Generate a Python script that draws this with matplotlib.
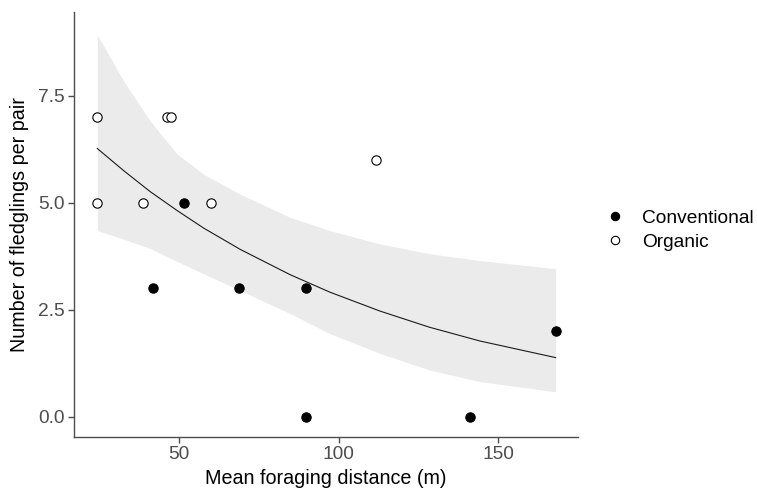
import matplotlib.pyplot as plt
from matplotlib.lines import Line2D

plt.rcParams['font.family'] = ['Liberation Sans', 'DejaVu Sans']

# observed points
conv_x = [41.7, 51.4, 68.8, 89.8, 89.8, 141.3, 168.0]
conv_y = [3, 5, 3, 3, 0, 0, 2]
org_x = [24.4, 24.4, 38.8, 46.3, 47.5, 60.0, 111.8]
org_y = [7, 5, 5, 7, 7, 5, 6]

# fitted curve and confidence band
fit_x = [24.4, 32.7, 41.0, 49.4, 57.7, 69.2, 84.8, 97.3, 112.9, 128.5, 144.2, 168.0]
fit_y = [6.27, 5.75, 5.26, 4.82, 4.41, 3.91, 3.32, 2.91, 2.47, 2.09, 1.77, 1.38]
fit_hi = [8.93, 7.84, 6.91, 6.14, 5.67, 5.20, 4.66, 4.35, 4.04, 3.81, 3.65, 3.46]
fit_lo = [4.35, 4.15, 3.93, 3.63, 3.34, 2.95, 2.41, 1.94, 1.48, 1.09, 0.82, 0.58]

x_ticks = [50, 100, 150]
y_ticks = [0.0, 2.5, 5.0, 7.5]

fig = plt.figure(figsize=(7.57, 5.03), dpi=100)
ax = fig.add_axes([0.0978, 0.1318, 0.6657, 0.8449])

ax.fill_between(fit_x, fit_lo, fit_hi, color='#EBEBEB', lw=0, zorder=1)
ax.plot(fit_x, fit_y, color='#1a1a1a', lw=0.8, zorder=2)

ax.scatter(conv_x, conv_y, s=45, c='black', edgecolors='black', linewidths=0.8, zorder=3)
ax.scatter(org_x, org_y, s=45, c='white', edgecolors='black', linewidths=0.8, zorder=3)

ax.set_xlim(17.1, 175)
ax.set_ylim(-0.47, 9.47)
ax.set_xticks(x_ticks)
ax.set_xticklabels([str(v) for v in x_ticks])
ax.set_yticks(y_ticks)
ax.set_yticklabels(['%.1f' % v for v in y_ticks])

for side in ['top', 'right']:
    ax.spines[side].set_visible(False)
for side in ['left', 'bottom']:
    ax.spines[side].set_color('#4D4D4D')
    ax.spines[side].set_linewidth(1.0)
ax.tick_params(colors='#4D4D4D', labelsize=13.8, length=4, width=1.0, pad=3)

ax.set_xlabel('Mean foraging distance (m)', fontsize=14.2, color='black', labelpad=4)
ax.set_ylabel('Number of fledglings per pair', fontsize=14.2, color='black', labelpad=6)

handles = [
    Line2D([], [], marker='o', ls='', markersize=6, markerfacecolor='black',
           markeredgecolor='black', markeredgewidth=0.8, label='Conventional'),
    Line2D([], [], marker='o', ls='', markersize=6, markerfacecolor='white',
           markeredgecolor='black', markeredgewidth=0.8, label='Organic'),
]
fig.legend(handles=handles, loc='center left', bbox_to_anchor=(0.777, 0.543),
           frameon=False, fontsize=13.8, handlelength=1.0, handletextpad=0.9,
           labelspacing=0.35)

fig.savefig('out.png', dpi=100)
